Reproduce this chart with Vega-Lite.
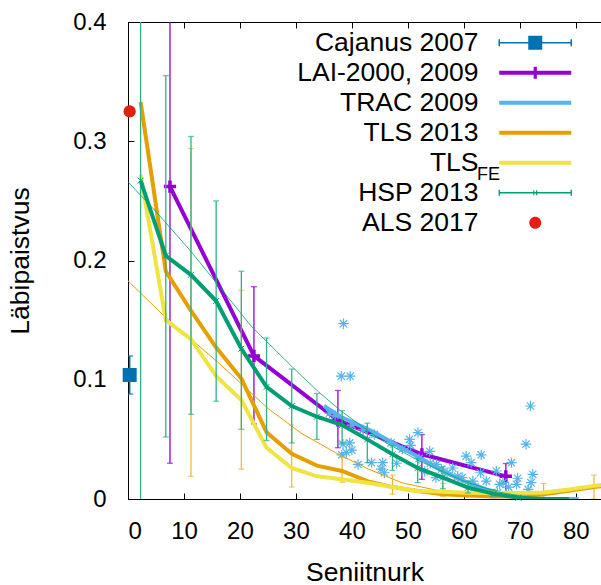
{
  "$schema": "https://vega.github.io/schema/vega-lite/v6.json",
  "width": 473,
  "height": 477,
  "autosize": "none",
  "padding": {"left": 128, "top": 22, "right": 0, "bottom": 86},
  "background": "white",
  "config": {
    "view": {"stroke": "black", "strokeWidth": 1},
    "font": "Liberation Sans",
    "axis": {
      "grid": false,
      "domainColor": "black",
      "tickColor": "black",
      "labelColor": "black",
      "titleColor": "black",
      "labelFont": "Liberation Sans",
      "titleFont": "Liberation Sans",
      "labelFontSize": 24,
      "titleFontSize": 26.5,
      "titleFontWeight": "normal",
      "tickSize": -6
    }
  },
  "datasets": {
    "lines": [
      {"s": "LAI", "x": 7.5, "y": 0.262}, {"s": "LAI", "x": 22.5, "y": 0.12}, {"s": "LAI", "x": 37.5, "y": 0.066}, {"s": "LAI", "x": 52.5, "y": 0.0375}, {"s": "LAI", "x": 67.5, "y": 0.019},
      {"s": "TRAC", "x": 35, "y": 0.078}, {"s": "TRAC", "x": 38, "y": 0.069}, {"s": "TRAC", "x": 44, "y": 0.056}, {"s": "TRAC", "x": 48, "y": 0.045}, {"s": "TRAC", "x": 52, "y": 0.035}, {"s": "TRAC", "x": 56, "y": 0.024}, {"s": "TRAC", "x": 60, "y": 0.015}, {"s": "TRAC", "x": 64, "y": 0.008}, {"s": "TRAC", "x": 68, "y": 0.003}, {"s": "TRAC", "x": 72, "y": 0.0005}, {"s": "TRAC", "x": 76, "y": 0}, {"s": "TRAC", "x": 80.5, "y": 0},
      {"s": "TLSfit", "x": 0, "y": 0.183}, {"s": "TLSfit", "x": 7, "y": 0.151}, {"s": "TLSfit", "x": 16, "y": 0.115}, {"s": "TLSfit", "x": 25, "y": 0.076}, {"s": "TLSfit", "x": 31, "y": 0.055}, {"s": "TLSfit", "x": 37, "y": 0.039}, {"s": "TLSfit", "x": 43, "y": 0.025}, {"s": "TLSfit", "x": 49, "y": 0.0135}, {"s": "TLSfit", "x": 55, "y": 0.0075}, {"s": "TLSfit", "x": 61, "y": 0.004}, {"s": "TLSfit", "x": 67, "y": 0.002}, {"s": "TLSfit", "x": 72, "y": 0.001},
      {"s": "TLS", "x": 2.25, "y": 0.333}, {"s": "TLS", "x": 6.75, "y": 0.191}, {"s": "TLS", "x": 11.25, "y": 0.158}, {"s": "TLS", "x": 15.75, "y": 0.127}, {"s": "TLS", "x": 20.25, "y": 0.101}, {"s": "TLS", "x": 24.75, "y": 0.056}, {"s": "TLS", "x": 29.25, "y": 0.038}, {"s": "TLS", "x": 33.75, "y": 0.028}, {"s": "TLS", "x": 38.25, "y": 0.0235}, {"s": "TLS", "x": 42.75, "y": 0.015}, {"s": "TLS", "x": 47.25, "y": 0.01}, {"s": "TLS", "x": 51.75, "y": 0.0067}, {"s": "TLS", "x": 56.25, "y": 0.004}, {"s": "TLS", "x": 60.75, "y": 0.003}, {"s": "TLS", "x": 65.25, "y": 0.002}, {"s": "TLS", "x": 69.75, "y": 0.002}, {"s": "TLS", "x": 74.25, "y": 0.004}, {"s": "TLS", "x": 78.75, "y": 0.007}, {"s": "TLS", "x": 83.25, "y": 0.01}, {"s": "TLS", "x": 85, "y": 0.011},
      {"s": "TLSFE", "x": 2.25, "y": 0.272}, {"s": "TLSFE", "x": 6.75, "y": 0.15}, {"s": "TLSFE", "x": 11.25, "y": 0.134}, {"s": "TLSFE", "x": 15.75, "y": 0.103}, {"s": "TLSFE", "x": 20.25, "y": 0.083}, {"s": "TLSFE", "x": 24.75, "y": 0.043}, {"s": "TLSFE", "x": 29.25, "y": 0.026}, {"s": "TLSFE", "x": 33.75, "y": 0.019}, {"s": "TLSFE", "x": 38.25, "y": 0.0165}, {"s": "TLSFE", "x": 42.75, "y": 0.0137}, {"s": "TLSFE", "x": 47.25, "y": 0.01}, {"s": "TLSFE", "x": 51.75, "y": 0.0067}, {"s": "TLSFE", "x": 56.25, "y": 0.006}, {"s": "TLSFE", "x": 60.75, "y": 0.0053}, {"s": "TLSFE", "x": 65.25, "y": 0.005}, {"s": "TLSFE", "x": 69.75, "y": 0.005}, {"s": "TLSFE", "x": 74.25, "y": 0.0055}, {"s": "TLSFE", "x": 78.75, "y": 0.008}, {"s": "TLSFE", "x": 83.25, "y": 0.011}, {"s": "TLSFE", "x": 85, "y": 0.012},
      {"s": "HSPfit", "x": 0, "y": 0.266}, {"s": "HSPfit", "x": 5, "y": 0.241}, {"s": "HSPfit", "x": 11, "y": 0.209}, {"s": "HSPfit", "x": 16, "y": 0.18}, {"s": "HSPfit", "x": 22, "y": 0.145}, {"s": "HSPfit", "x": 29.5, "y": 0.11}, {"s": "HSPfit", "x": 34, "y": 0.09}, {"s": "HSPfit", "x": 38, "y": 0.074}, {"s": "HSPfit", "x": 45, "y": 0.05}, {"s": "HSPfit", "x": 52, "y": 0.032}, {"s": "HSPfit", "x": 60, "y": 0.015}, {"s": "HSPfit", "x": 66, "y": 0.006}, {"s": "HSPfit", "x": 72, "y": 0.001}, {"s": "HSPfit", "x": 76, "y": 0},
      {"s": "HSP", "x": 2.25, "y": 0.267}, {"s": "HSP", "x": 6.75, "y": 0.204}, {"s": "HSP", "x": 11.25, "y": 0.188}, {"s": "HSP", "x": 15.75, "y": 0.166}, {"s": "HSP", "x": 20.25, "y": 0.126}, {"s": "HSP", "x": 24.75, "y": 0.094}, {"s": "HSP", "x": 29.25, "y": 0.078}, {"s": "HSP", "x": 33.75, "y": 0.069}, {"s": "HSP", "x": 38.25, "y": 0.062}, {"s": "HSP", "x": 42.75, "y": 0.05}, {"s": "HSP", "x": 47.25, "y": 0.0375}, {"s": "HSP", "x": 51.75, "y": 0.026}, {"s": "HSP", "x": 56.25, "y": 0.018}, {"s": "HSP", "x": 60.75, "y": 0.0095}, {"s": "HSP", "x": 65.25, "y": 0.0045}, {"s": "HSP", "x": 69.75, "y": 0.001}, {"s": "HSP", "x": 74.25, "y": 0}, {"s": "HSP", "x": 78.75, "y": 0}
    ],
    "bars": [
      {"s": "Caj", "x": 0.3, "lo": 0.088, "hi": 0.12},
      {"s": "LAI", "x": 7.5, "lo": 0.03, "hi": 0.45}, {"s": "LAI", "x": 22.5, "lo": 0.063, "hi": 0.178}, {"s": "LAI", "x": 37.5, "lo": 0.043, "hi": 0.091}, {"s": "LAI", "x": 52.5, "lo": 0.0165, "hi": 0.054}, {"s": "LAI", "x": 67.5, "lo": 0.0053, "hi": 0.0297},
      {"s": "TLS", "x": 11.25, "lo": 0.019, "hi": 0.294}, {"s": "TLS", "x": 20.25, "lo": 0.025, "hi": 0.175}, {"s": "TLS", "x": 29.25, "lo": 0.01, "hi": 0.062}, {"s": "TLS", "x": 38.25, "lo": 0.014, "hi": 0.035}, {"s": "TLS", "x": 47.25, "lo": 0.004, "hi": 0.02}, {"s": "TLS", "x": 56.25, "lo": 0.002, "hi": 0.013}, {"s": "TLS", "x": 65.25, "lo": 0.001, "hi": 0.007}, {"s": "TLS", "x": 74.25, "lo": 0, "hi": 0.013}, {"s": "TLS", "x": 83.25, "lo": 0, "hi": 0.02},
      {"s": "HSP", "x": 2.25, "lo": -0.05, "hi": 0.45}, {"s": "HSP", "x": 6.75, "lo": 0.052, "hi": 0.355}, {"s": "HSP", "x": 11.25, "lo": 0.071, "hi": 0.304}, {"s": "HSP", "x": 15.75, "lo": 0.082, "hi": 0.25}, {"s": "HSP", "x": 20.25, "lo": 0.0585, "hi": 0.191}, {"s": "HSP", "x": 24.75, "lo": 0.049, "hi": 0.135}, {"s": "HSP", "x": 29.25, "lo": 0.047, "hi": 0.109}, {"s": "HSP", "x": 33.75, "lo": 0.05, "hi": 0.0885}, {"s": "HSP", "x": 38.25, "lo": 0.047, "hi": 0.074}, {"s": "HSP", "x": 42.75, "lo": 0.0305, "hi": 0.0636}, {"s": "HSP", "x": 47.25, "lo": 0.024, "hi": 0.045}, {"s": "HSP", "x": 51.75, "lo": 0.0137, "hi": 0.034}, {"s": "HSP", "x": 56.25, "lo": 0.0087, "hi": 0.027}, {"s": "HSP", "x": 60.75, "lo": 0.005, "hi": 0.015}, {"s": "HSP", "x": 65.25, "lo": 0.002, "hi": 0.008}, {"s": "HSP", "x": 69.75, "lo": 0, "hi": 0.003}
    ],
    "pts": [
      {"s": "Caj", "x": 0.3, "y": 0.104},
      {"s": "ALS", "x": 0.3, "y": 0.325},
      {"s": "LAI", "x": 7.5, "y": 0.262}, {"s": "LAI", "x": 22.5, "y": 0.12}, {"s": "LAI", "x": 37.5, "y": 0.066}, {"s": "LAI", "x": 52.5, "y": 0.0375}, {"s": "LAI", "x": 67.5, "y": 0.019},
      {"s": "TRAC", "x": 38.5, "y": 0.147}, {"s": "TRAC", "x": 38.1, "y": 0.103}, {"s": "TRAC", "x": 39.7, "y": 0.103}, {"s": "TRAC", "x": 38.4, "y": 0.046}, {"s": "TRAC", "x": 39.6, "y": 0.047}, {"s": "TRAC", "x": 39, "y": 0.039}, {"s": "TRAC", "x": 40, "y": 0.041}, {"s": "TRAC", "x": 38.2, "y": 0.037}, {"s": "TRAC", "x": 41.1, "y": 0.029}, {"s": "TRAC", "x": 43.5, "y": 0.0305}, {"s": "TRAC", "x": 45.5, "y": 0.0305}, {"s": "TRAC", "x": 45.2, "y": 0.025}, {"s": "TRAC", "x": 45.8, "y": 0.022}, {"s": "TRAC", "x": 50.3, "y": 0.05}, {"s": "TRAC", "x": 51.8, "y": 0.0557}, {"s": "TRAC", "x": 50.5, "y": 0.045}, {"s": "TRAC", "x": 53.9, "y": 0.04}, {"s": "TRAC", "x": 55.1, "y": 0.029}, {"s": "TRAC", "x": 58, "y": 0.026}, {"s": "TRAC", "x": 58.9, "y": 0.019}, {"s": "TRAC", "x": 60.4, "y": 0.036}, {"s": "TRAC", "x": 63.1, "y": 0.037}, {"s": "TRAC", "x": 61.3, "y": 0.0305}, {"s": "TRAC", "x": 68.5, "y": 0.0305}, {"s": "TRAC", "x": 65.8, "y": 0.0235}, {"s": "TRAC", "x": 72.3, "y": 0.0207}, {"s": "TRAC", "x": 69.6, "y": 0.0174}, {"s": "TRAC", "x": 72, "y": 0.0137}, {"s": "TRAC", "x": 69.4, "y": 0.0123}, {"s": "TRAC", "x": 64, "y": 0.015}, {"s": "TRAC", "x": 66.4, "y": 0.0123}, {"s": "TRAC", "x": 61.6, "y": 0.015}, {"s": "TRAC", "x": 71.5, "y": 0.008}, {"s": "TRAC", "x": 59.7, "y": 0.018}, {"s": "TRAC", "x": 71.9, "y": 0.078}, {"s": "TRAC", "x": 71.1, "y": 0.046},
      {"s": "TRAC", "x": 36, "y": 0.072}, {"s": "TRAC", "x": 37, "y": 0.07}, {"s": "TRAC", "x": 40, "y": 0.062}, {"s": "TRAC", "x": 42, "y": 0.058}, {"s": "TRAC", "x": 44, "y": 0.054}, {"s": "TRAC", "x": 47, "y": 0.047}, {"s": "TRAC", "x": 49, "y": 0.042}, {"s": "TRAC", "x": 52, "y": 0.034}, {"s": "TRAC", "x": 54, "y": 0.03}, {"s": "TRAC", "x": 56, "y": 0.025}, {"s": "TRAC", "x": 57, "y": 0.022}, {"s": "TRAC", "x": 62, "y": 0.01}, {"s": "TRAC", "x": 66, "y": 0.005}, {"s": "TRAC", "x": 48, "y": 0.03}, {"s": "TRAC", "x": 53, "y": 0.023}, {"s": "TRAC", "x": 55, "y": 0.018}, {"s": "TRAC", "x": 63, "y": 0.022}, {"s": "TRAC", "x": 67, "y": 0.014}, {"s": "TRAC", "x": 68, "y": 0.01},
      {"s": "HSP", "x": 2.25, "y": 0.267}, {"s": "HSP", "x": 6.75, "y": 0.204}, {"s": "HSP", "x": 11.25, "y": 0.188}, {"s": "HSP", "x": 15.75, "y": 0.166}, {"s": "HSP", "x": 20.25, "y": 0.126}, {"s": "HSP", "x": 24.75, "y": 0.094}, {"s": "HSP", "x": 29.25, "y": 0.078}, {"s": "HSP", "x": 33.75, "y": 0.069}, {"s": "HSP", "x": 38.25, "y": 0.062}, {"s": "HSP", "x": 42.75, "y": 0.05}, {"s": "HSP", "x": 47.25, "y": 0.0375}, {"s": "HSP", "x": 51.75, "y": 0.026}, {"s": "HSP", "x": 56.25, "y": 0.018}, {"s": "HSP", "x": 60.75, "y": 0.0095}, {"s": "HSP", "x": 65.25, "y": 0.0045}, {"s": "HSP", "x": 69.75, "y": 0.001}
    ],
    "legend": [
      {"series": "Cajanus 2007", "sub": "FE"}, {"series": "LAI-2000, 2009", "sub": "FE"}, {"series": "TRAC 2009", "sub": "FE"}, {"series": "TLS 2013", "sub": "FE"}, {"series": "TLS_FE", "sub": "FE"}, {"series": "HSP 2013", "sub": "FE"}, {"series": "ALS 2017", "sub": "FE"}
    ]
  },
  "resolve": {"axis": {"x": "independent"}},
  "layer": [
    {
      "layer": [
        {
          "data": {"name": "bars"},
          "transform": [{"filter": "datum.s === 'Caj'"}],
          "layer": [
            {"mark": {"type": "rule", "color": "#0072B2", "strokeWidth": 1.5, "clip": true},
             "encoding": {"x": {"field": "x", "type": "quantitative", "title": "Seniitnurk", "scale": {"domain": [0, 84.5], "nice": false, "zero": false}, "axis": {"values": [0, 10, 20, 30, 40, 50, 60, 70, 80], "labelPadding": 26, "titlePadding": 16}},
                          "y": {"field": "lo", "type": "quantitative", "title": "Läbipaistvus", "scale": {"domain": [0, 0.4], "nice": false}, "axis": {"values": [0, 0.1, 0.2, 0.3, 0.4], "format": ".1~f", "labelPadding": 28, "titlePadding": 38}},
                          "y2": {"field": "hi"}}},
            {"mark": {"type": "tick", "orient": "horizontal", "color": "#0072B2", "thickness": 1.5, "size": 7, "clip": true},
             "encoding": {"x": {"field": "x", "type": "quantitative"}, "y": {"field": "lo", "type": "quantitative"}}},
            {"mark": {"type": "tick", "orient": "horizontal", "color": "#0072B2", "thickness": 1.5, "size": 7, "clip": true},
             "encoding": {"x": {"field": "x", "type": "quantitative"}, "y": {"field": "hi", "type": "quantitative"}}}
          ]
        },
        {
          "data": {"name": "pts"},
          "transform": [{"filter": "datum.s === 'Caj'"}],
          "mark": {"type": "point", "shape": "square", "filled": true, "opacity": 1, "color": "#0072B2", "size": 196},
          "encoding": {"x": {"field": "x", "type": "quantitative"}, "y": {"field": "y", "type": "quantitative"}}
        },
        {
          "data": {"name": "bars"},
          "transform": [{"filter": "datum.s === 'LAI'"}],
          "layer": [
            {"mark": {"type": "rule", "color": "#9400D3", "strokeWidth": 1.3, "clip": true},
             "encoding": {"x": {"field": "x", "type": "quantitative"}, "y": {"field": "lo", "type": "quantitative"}, "y2": {"field": "hi"}}},
            {"mark": {"type": "tick", "orient": "horizontal", "color": "#9400D3", "thickness": 1.3, "size": 6, "clip": true},
             "encoding": {"x": {"field": "x", "type": "quantitative"}, "y": {"field": "lo", "type": "quantitative"}}},
            {"mark": {"type": "tick", "orient": "horizontal", "color": "#9400D3", "thickness": 1.3, "size": 6, "clip": true},
             "encoding": {"x": {"field": "x", "type": "quantitative"}, "y": {"field": "hi", "type": "quantitative"}}}
          ]
        },
        {
          "data": {"name": "lines"},
          "transform": [{"filter": "datum.s === 'LAI'"}],
          "mark": {"type": "line", "color": "#9400D3", "strokeWidth": 4, "clip": true},
          "encoding": {"x": {"field": "x", "type": "quantitative"}, "y": {"field": "y", "type": "quantitative"}}
        },
        {
          "data": {"name": "pts"},
          "transform": [{"filter": "datum.s === 'LAI'"}],
          "mark": {"type": "point", "shape": "M-1,0H1M0,-1V1", "filled": false, "opacity": 1, "color": "#9400D3", "strokeWidth": 3.5, "size": 150},
          "encoding": {"x": {"field": "x", "type": "quantitative"}, "y": {"field": "y", "type": "quantitative"}}
        },
        {
          "data": {"name": "pts"},
          "transform": [{"filter": "datum.s === 'TRAC'"}],
          "mark": {"type": "point", "shape": "M-1,0H1M0,-1V1M-0.7,-0.7L0.7,0.7M-0.7,0.7L0.7,-0.7", "filled": false, "opacity": 1, "color": "#56B4E9", "strokeWidth": 1.2, "size": 110},
          "encoding": {"x": {"field": "x", "type": "quantitative"}, "y": {"field": "y", "type": "quantitative"}}
        },
        {
          "data": {"name": "lines"},
          "transform": [{"filter": "datum.s === 'TRAC'"}],
          "mark": {"type": "line", "color": "#56B4E9", "strokeWidth": 4, "clip": true},
          "encoding": {"x": {"field": "x", "type": "quantitative"}, "y": {"field": "y", "type": "quantitative"}}
        },
        {
          "data": {"name": "lines"},
          "transform": [{"filter": "datum.s === 'TLSfit'"}],
          "mark": {"type": "line", "color": "#E69F00", "strokeWidth": 1, "clip": true},
          "encoding": {"x": {"field": "x", "type": "quantitative"}, "y": {"field": "y", "type": "quantitative"}}
        },
        {
          "data": {"name": "bars"},
          "transform": [{"filter": "datum.s === 'TLS'"}],
          "layer": [
            {"mark": {"type": "rule", "color": "#F2B233", "strokeWidth": 1.2, "clip": true},
             "encoding": {"x": {"field": "x", "type": "quantitative"}, "y": {"field": "lo", "type": "quantitative"}, "y2": {"field": "hi"}}},
            {"mark": {"type": "tick", "orient": "horizontal", "color": "#F2B233", "thickness": 1.2, "size": 6, "clip": true},
             "encoding": {"x": {"field": "x", "type": "quantitative"}, "y": {"field": "lo", "type": "quantitative"}}},
            {"mark": {"type": "tick", "orient": "horizontal", "color": "#F2B233", "thickness": 1.2, "size": 6, "clip": true},
             "encoding": {"x": {"field": "x", "type": "quantitative"}, "y": {"field": "hi", "type": "quantitative"}}}
          ]
        },
        {
          "data": {"name": "lines"},
          "transform": [{"filter": "datum.s === 'TLS'"}],
          "mark": {"type": "line", "color": "#E69F00", "strokeWidth": 4, "clip": true},
          "encoding": {"x": {"field": "x", "type": "quantitative"}, "y": {"field": "y", "type": "quantitative"}}
        },
        {
          "data": {"name": "lines"},
          "transform": [{"filter": "datum.s === 'TLSFE'"}],
          "mark": {"type": "line", "color": "#F0E442", "strokeWidth": 4, "clip": true},
          "encoding": {"x": {"field": "x", "type": "quantitative"}, "y": {"field": "y", "type": "quantitative"}}
        },
        {
          "data": {"name": "lines"},
          "transform": [{"filter": "datum.s === 'HSPfit'"}],
          "mark": {"type": "line", "color": "#009E73", "strokeWidth": 1, "opacity": 0.8, "clip": true},
          "encoding": {"x": {"field": "x", "type": "quantitative"}, "y": {"field": "y", "type": "quantitative"}}
        },
        {
          "data": {"name": "bars"},
          "transform": [{"filter": "datum.s === 'HSP'"}],
          "layer": [
            {"mark": {"type": "rule", "color": "#2FB08A", "strokeWidth": 1.3, "clip": true},
             "encoding": {"x": {"field": "x", "type": "quantitative"}, "y": {"field": "lo", "type": "quantitative"}, "y2": {"field": "hi"}}},
            {"mark": {"type": "tick", "orient": "horizontal", "color": "#2FB08A", "thickness": 1.3, "size": 6, "clip": true},
             "encoding": {"x": {"field": "x", "type": "quantitative"}, "y": {"field": "lo", "type": "quantitative"}}},
            {"mark": {"type": "tick", "orient": "horizontal", "color": "#2FB08A", "thickness": 1.3, "size": 6, "clip": true},
             "encoding": {"x": {"field": "x", "type": "quantitative"}, "y": {"field": "hi", "type": "quantitative"}}}
          ]
        },
        {
          "data": {"name": "lines"},
          "transform": [{"filter": "datum.s === 'HSP'"}],
          "mark": {"type": "line", "color": "#009E73", "strokeWidth": 4, "clip": true},
          "encoding": {"x": {"field": "x", "type": "quantitative"}, "y": {"field": "y", "type": "quantitative"}}
        },
        {
          "data": {"name": "pts"},
          "transform": [{"filter": "datum.s === 'HSP'"}],
          "mark": {"type": "point", "shape": "M-1,-1L1,1M-1,1L1,-1", "filled": false, "opacity": 1, "color": "#009E73", "strokeWidth": 1, "size": 36},
          "encoding": {"x": {"field": "x", "type": "quantitative"}, "y": {"field": "y", "type": "quantitative"}}
        },
        {
          "data": {"name": "pts"},
          "transform": [{"filter": "datum.s === 'ALS'"}],
          "mark": {"type": "point", "shape": "circle", "filled": true, "opacity": 1, "color": "#E51E10", "size": 150},
          "encoding": {"x": {"field": "x", "type": "quantitative"}, "y": {"field": "y", "type": "quantitative"}}
        },
        {
          "data": {"name": "legend"},
          "mark": {"type": "point", "filled": true, "opacity": 1},
          "encoding": {
            "x": {"field": "x", "type": "quantitative"},
            "y": {"field": "y", "type": "quantitative"},
            "color": {
              "field": "series", "type": "nominal",
              "scale": {"domain": ["Cajanus 2007", "LAI-2000, 2009", "TRAC 2009", "TLS 2013", "TLS_FE", "HSP 2013", "ALS 2017"],
                        "range": ["#0072B2", "#9400D3", "#56B4E9", "#E69F00", "#F0E442", "#009E73", "#E51E10"]},
              "legend": {
                "orient": "none", "legendX": 350, "legendY": 7.5, "title": null, "padding": 0,
                "labelFont": "Liberation Sans", "labelFontSize": 26.5, "labelColor": "black",
                "labelAlign": "right", "labelBaseline": "middle", "labelLimit": 400,
                "labelOffset": -70, "symbolOffset": 44, "symbolSize": 4, "symbolStrokeWidth": 0,
                "rowPadding": 0,
                "labelExpr": "datum.value === 'TLS_FE' ? 'TLS' : datum.value"
              }
            },
            "shape": {
              "field": "series", "type": "nominal",
              "scale": {"domain": ["Cajanus 2007", "LAI-2000, 2009", "TRAC 2009", "TLS 2013", "TLS_FE", "HSP 2013", "ALS 2017"],
                        "range": [
                          "M0,-14.7L0,-14.7M0,14.7L0,14.7M-36,-0.75H36V0.75H-36ZM-36.75,-3.5H-35.25V3.5H-36.75ZM35.25,-3.5H36.75V3.5H35.25ZM-7,-7H7V7H-7Z",
                          "M0,-14.7L0,-14.7M0,14.7L0,14.7M-36,-2H36V2H-36ZM-1.6,-6H1.6V6H-1.6Z",
                          "M0,-14.7L0,-14.7M0,14.7L0,14.7M-36,-2H36V2H-36Z",
                          "M0,-14.7L0,-14.7M0,14.7L0,14.7M-36,-2H36V2H-36Z",
                          "M0,-14.7L0,-14.7M0,14.7L0,14.7M-36,-2H36V2H-36Z",
                          "M0,-14.7L0,-14.7M0,14.7L0,14.7M-36,-0.7H36V0.7H-36ZM-36.7,-3H-35.3V3H-36.7ZM35.3,-3H36.7V3H35.3ZM-2,-2.5H-0.8V2.5H-2ZM0.8,-2.5H2V2.5H0.8Z",
                          "M0,-14.7L0,-14.7M0,14.7L0,14.7M-6,0A6,6,0,1,0,6,0A6,6,0,1,0,-6,0Z"
                        ]}
            },
            "opacity": {
              "field": "sub", "type": "nominal",
              "scale": {"domain": ["FE"], "range": [1]},
              "legend": {
                "orient": "none", "legendX": 390, "legendY": 143.5, "title": null, "padding": 0,
                "labelFont": "Liberation Sans", "labelFontSize": 18, "labelColor": "black",
                "labelAlign": "right", "labelBaseline": "middle", "labelLimit": 400,
                "labelOffset": -80, "symbolOffset": 44, "symbolSize": 4, "symbolStrokeWidth": 0,
                "symbolOpacity": 0, "symbolFillColor": "transparent"
              }
            }
          }
        }
      ]
    },
    {
      "data": {"name": "legend"},
      "mark": {"type": "rule"},
      "encoding": {
        "x": {"field": "x", "type": "quantitative", "axis": {"orient": "top", "labels": false, "title": null, "domain": false, "values": [0, 10, 20, 30, 40, 50, 60, 70, 80]}},
        "y": {"field": "y", "type": "quantitative"}
      }
    }
  ]
}
